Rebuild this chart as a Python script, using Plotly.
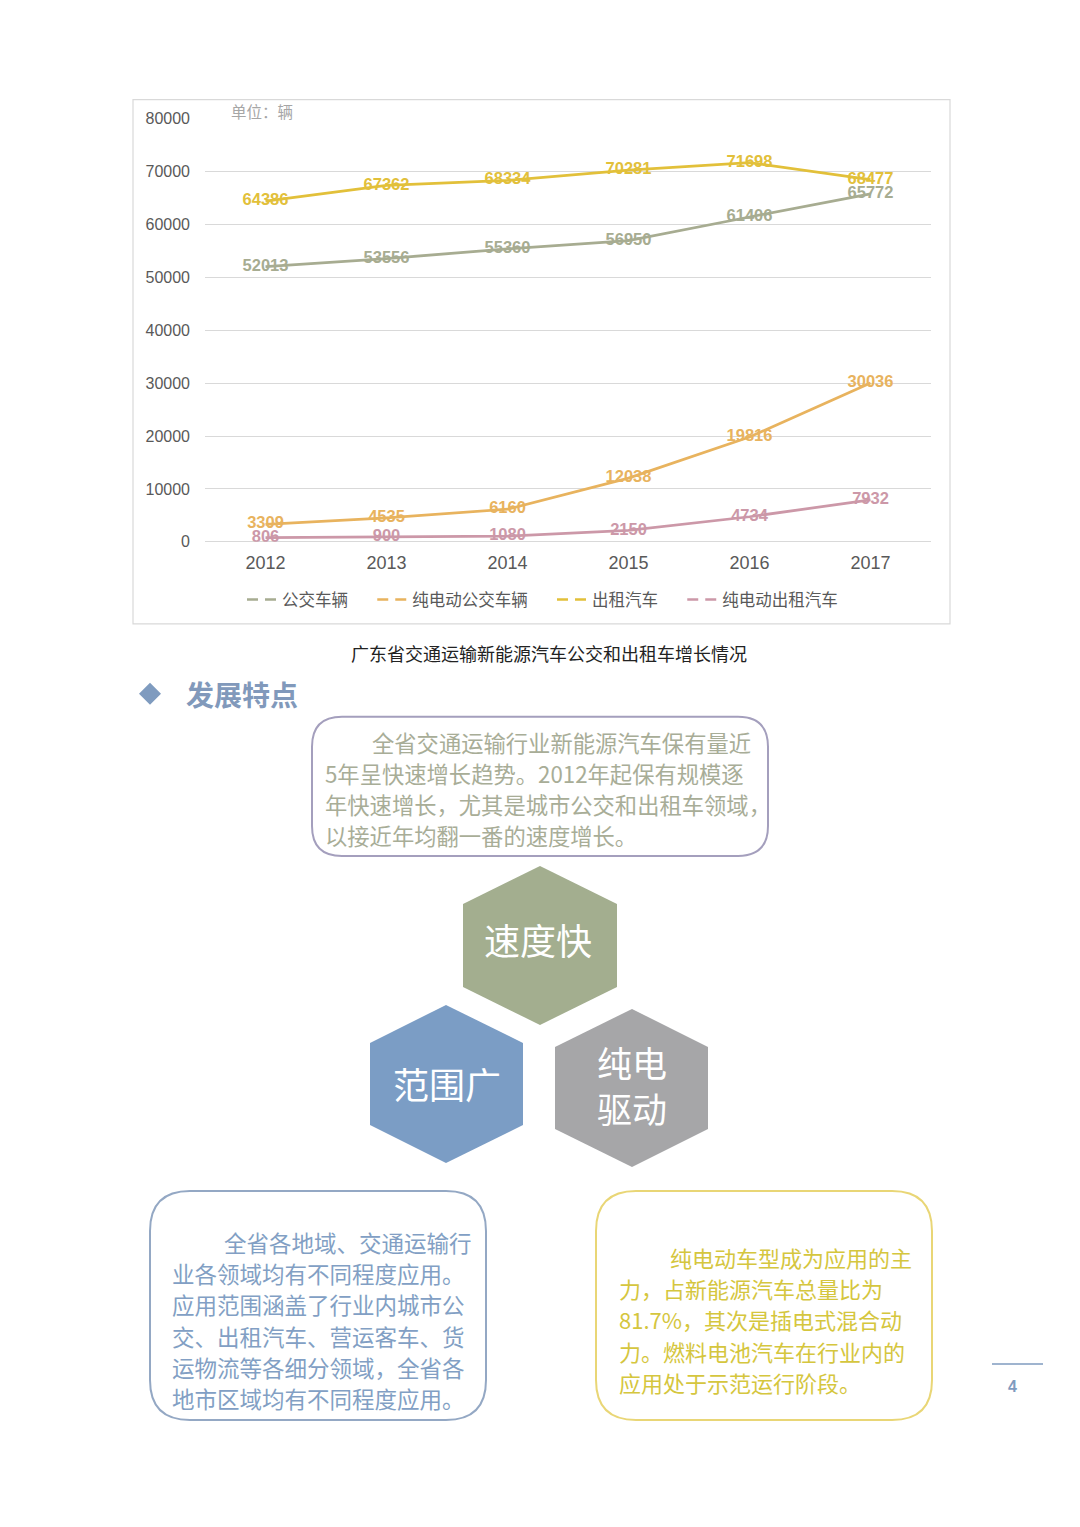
import plotly.graph_objects as go

W, H = 1080, 1527

years = ["2012", "2013", "2014", "2015", "2016", "2017"]
bus_total = [52013, 53556, 55360, 56950, 61406, 65772]
bus_ev = [3309, 4535, 6160, 12038, 19816, 30036]
taxi_total = [64386, 67362, 68334, 70281, 71698, 68477]
taxi_ev = [806, 900, 1080, 2150, 4734, 7932]

series_names = ["公交车辆", "纯电动公交车辆", "出租汽车", "纯电动出租汽车"]
series_colors = ["#a7ac91", "#e8b35e", "#e2c03a", "#cc98a8"]
series_values = [bus_total, bus_ev, taxi_total, taxi_ev]

caption = "广东省交通运输新能源汽车公交和出租车增长情况"
section_title = "发展特点"
top_lines = ["全省交通运输行业新能源汽车保有量近",
             "5年呈快速增长趋势。2012年起保有规模逐",
             "年快速增长，尤其是城市公交和出租车领域，",
             "以接近年均翻一番的速度增长。"]
left_lines = ["全省各地域、交通运输行",
              "业各领域均有不同程度应用。",
              "应用范围涵盖了行业内城市公",
              "交、出租汽车、营运客车、货",
              "运物流等各细分领域，全省各",
              "地市区域均有不同程度应用。"]
right_lines = ["纯电动车型成为应用的主",
               "力，占新能源汽车总量比为",
               "81.7%，其次是插电式混合动",
               "力。燃料电池汽车在行业内的",
               "应用处于示范运行阶段。"]

CJK = "Noto Sans CJK SC"
LAT = "Liberation Sans, Arial, Noto Sans CJK SC"


# page pixel -> paper fraction (page offset compensated)
def px(x):
    return (x - 8) / W


def py(y):
    return 1 - ((y - 15.4) / 0.9885) / H


def round_rect(x0, y0, x1, y1, r):
    pts = [
        f"M{px(x0 + r)},{py(y0)}",
        f"L{px(x1 - r)},{py(y0)}",
        f"Q{px(x1)},{py(y0)} {px(x1)},{py(y0 + r)}",
        f"L{px(x1)},{py(y1 - r)}",
        f"Q{px(x1)},{py(y1)} {px(x1 - r)},{py(y1)}",
        f"L{px(x0 + r)},{py(y1)}",
        f"Q{px(x0)},{py(y1)} {px(x0)},{py(y1 - r)}",
        f"L{px(x0)},{py(y0 + r)}",
        f"Q{px(x0)},{py(y0)} {px(x0 + r)},{py(y0)}",
        "Z",
    ]
    return " ".join(pts)


def hexagon(cx, top, bottom, left, right, shoulder):
    pts = [(cx, top), (right, top + shoulder), (right, bottom - shoulder),
           (cx, bottom), (left, bottom - shoulder), (left, top + shoulder)]
    return "M" + " L".join(f"{px(a)},{py(b)}" for a, b in pts) + " Z"


fig = go.Figure()

for name, color, vals in zip(series_names, series_colors, series_values):
    fig.add_trace(go.Scatter(
        x=years, y=vals, mode="lines+text", name=name,
        text=[str(v) for v in vals], textposition="middle center",
        textfont=dict(family=LAT, size=16.5, color=color, weight="bold"),
        line=dict(color=color, width=2.75), showlegend=False,
        hoverinfo="skip"))

# legend entries with dashed samples, padded so the items spread like the original
for name, color in zip(series_names, series_colors):
    fig.add_trace(go.Scatter(
        x=[None], y=[None], mode="lines", name=name + "\u3000\u2006",
        line=dict(color=color, width=2.5, dash="11px,7px")))

shapes = []
shapes.append(dict(type="rect", xref="paper", yref="paper",
                   x0=px(133), x1=px(950), y0=py(623), y1=py(99),
                   line=dict(color="#d9d9d9", width=1.2), layer="below"))
shapes.append(dict(type="path", xref="paper", yref="paper",
                   path=f"M{px(150)},{py(682)} L{px(161)},{py(693)} L{px(150)},{py(704)} L{px(139)},{py(693)} Z",
                   fillcolor="#7f9bbf", line=dict(width=0)))
shapes.append(dict(type="path", xref="paper", yref="paper",
                   path=round_rect(312, 716, 768, 855, 30),
                   line=dict(color="#a49fbd", width=2)))
shapes.append(dict(type="path", xref="paper", yref="paper",
                   path=round_rect(150, 1190, 486, 1419, 40),
                   line=dict(color="#94a8c4", width=2)))
shapes.append(dict(type="path", xref="paper", yref="paper",
                   path=round_rect(596, 1190, 932, 1419, 40),
                   line=dict(color="#e9d676", width=2)))
shapes.append(dict(type="path", xref="paper", yref="paper",
                   path=hexagon(540, 865, 1024, 463, 617, 38),
                   fillcolor="#a3ae8f", line=dict(width=0)))
shapes.append(dict(type="path", xref="paper", yref="paper",
                   path=hexagon(446, 1004, 1162, 370, 523, 38),
                   fillcolor="#7b9dc5", line=dict(width=0)))
shapes.append(dict(type="path", xref="paper", yref="paper",
                   path=hexagon(632, 1008, 1166, 555, 708, 38),
                   fillcolor="#a6a6a8", line=dict(width=0)))
shapes.append(dict(type="line", xref="paper", yref="paper",
                   x0=px(992), x1=px(1043), y0=py(1363), y1=py(1363),
                   line=dict(color="#7f9bbf", width=1.5)))

ann = []


def note(x, y, text, size, color, anchor="left", bold=False, family=CJK):
    ann.append(dict(xref="paper", yref="paper", x=px(x), y=py(y),
                    text=f"<b>{text}</b>" if bold else text,
                    showarrow=False, xanchor=anchor, yanchor="middle",
                    font=dict(family=family, size=size, color=color)))


note(229, 110, "单位：辆", 15.5, "#a6a6a6")
note(549, 652, caption, 18, "#222222", anchor="center")
note(184, 693, section_title, 28, "#8199bb", bold=True)

for i, line in enumerate(top_lines):
    note(370 if i == 0 else 323, 741 + i * 31, line, 22.3, "#a8ad97")
for i, line in enumerate(left_lines):
    note(222 if i == 0 else 170, 1241 + i * 31.2, line, 22.5, "#829fc4")
for i, line in enumerate(right_lines):
    note(668 if i == 0 else 617, 1256 + i * 31.2, line, 22, "#d5c63e")

note(538, 938, "速度快", 36, "#ffffff", anchor="center")
note(447, 1082, "范围广", 36, "#ffffff", anchor="center")
note(632, 1084, "纯电<br>驱动", 35, "#ffffff", anchor="center")
note(1012, 1385, "4", 16, "#7f9bbf", anchor="center", bold=True, family=LAT)

fig.update_layout(
    width=W, height=H, autosize=False,
    margin=dict(l=0, r=0, t=0, b=0),
    paper_bgcolor="white", plot_bgcolor="white",
    font=dict(family=LAT, color="#595959"),
    shapes=shapes, annotations=ann,
    legend=dict(orientation="h", x=px(242), y=py(599), xanchor="left",
                yanchor="middle", font=dict(family=CJK, size=16.5, color="#595959"),
                bgcolor="rgba(0,0,0,0)", itemwidth=30, traceorder="normal"),
    xaxis=dict(domain=[px(205), px(931)], type="category",
               range=[-0.5, 5.5], showgrid=False, zeroline=False,
               showline=False, ticks="", ticklabelstandoff=8,
               tickfont=dict(size=18, color="#595959")),
    yaxis=dict(domain=[py(541), py(118)], range=[0, 80000], dtick=10000,
               showgrid=True, gridcolor="#d9d9d9", gridwidth=1,
               zeroline=True, zerolinecolor="#d9d9d9", zerolinewidth=1,
               showline=False, ticks="", ticklabelstandoff=14,
               tickformat="d", tickfont=dict(size=16, color="#595959")),
)

fig.write_html("out.html")
